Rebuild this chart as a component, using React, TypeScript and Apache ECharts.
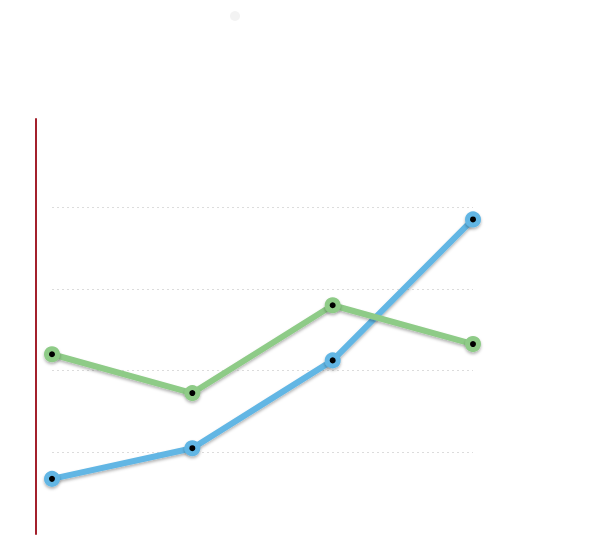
import { useEffect, useRef } from "react";
import * as echarts from "echarts";

const categories = ["A", "B", "C", "D"];
const blueValues = [13.5, 21, 42.5, 77];
const greenValues = [44, 34.5, 56, 46.5];

const App: React.FC = () => {
  const chartRef = useRef<HTMLDivElement>(null);

  useEffect(() => {
    if (!chartRef.current) return;
    const chart = echarts.init(chartRef.current, undefined, { renderer: "svg" });

    const lineSeries = (name: string, data: number[], color: string) => ({
      name,
      type: "line",
      xAxisIndex: 1,
      yAxisIndex: 1,
      data,
      symbol: "circle",
      symbolSize: 11,
      lineStyle: {
        color,
        width: 6,
        shadowColor: "rgba(0,0,0,0.3)",
        shadowBlur: 3,
        shadowOffsetY: 2,
      },
      itemStyle: {
        color: "#000",
        borderColor: color,
        borderWidth: 5,
        shadowColor: "rgba(0,0,0,0.3)",
        shadowBlur: 3,
        shadowOffsetY: 2,
      },
      emphasis: { disabled: true },
    });

    chart.setOption({
      animation: false,
      grid: [
        // only holds the red axis line
        { left: 52, right: 125, top: 119, bottom: 13 },
        // data grid
        { left: 52, right: 125, top: 125.5, bottom: 13 },
      ],
      xAxis: [
        { type: "category", gridIndex: 0, data: categories, show: false },
        {
          type: "category",
          gridIndex: 1,
          data: categories,
          boundaryGap: false,
          show: false,
        },
      ],
      yAxis: [
        {
          type: "value",
          gridIndex: 0,
          min: 0,
          max: 1,
          offset: 16,
          axisLine: { show: true, lineStyle: { color: "#a3202c", width: 2 } },
          axisTick: { show: false },
          axisLabel: { show: false },
          splitLine: { show: false },
        },
        {
          type: "value",
          gridIndex: 1,
          min: 0,
          max: 100,
          interval: 20,
          axisLine: { show: false },
          axisTick: { show: false },
          axisLabel: { show: false },
          splitLine: {
            show: true,
            showMinLine: false,
            showMaxLine: false,
            lineStyle: { color: "#dcdcdc", type: [2, 3], width: 1 },
          },
        },
      ],
      graphic: [
        {
          type: "circle",
          shape: { cx: 235, cy: 16, r: 5 },
          style: { fill: "#f3f3f3" },
        },
      ],
      series: [
        lineSeries("blue", blueValues, "#62b6e4"),
        lineSeries("green", greenValues, "#8ecb87"),
      ],
    });

    return () => chart.dispose();
  }, []);

  return (
    <div
      ref={chartRef}
      style={{ position: "fixed", left: 0, top: 0, width: "598px", height: "547px" }}
    />
  );
};

export default App;
